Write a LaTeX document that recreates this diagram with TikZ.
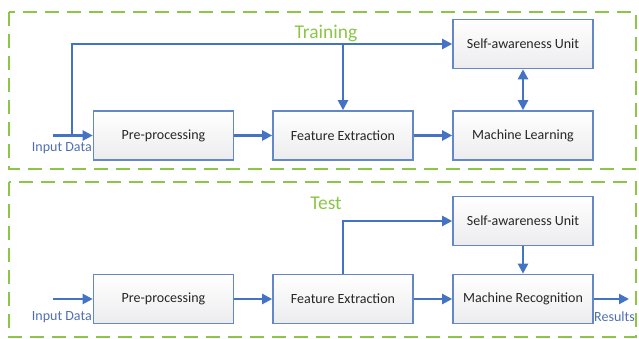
\documentclass[tikz,border=0pt]{standalone}
\usepackage{fontspec}
\setmainfont{Carlito}
\usetikzlibrary{arrows.meta,calc}
\definecolor{grn}{RGB}{140,198,70}
\definecolor{blu}{RGB}{68,114,196}
\definecolor{bord}{RGB}{100,135,200}
\definecolor{lbl}{RGB}{80,110,180}
\tikzset{
  blk/.style={draw=bord, line width=1.6pt, top color=white, bottom color=blue!6!gray!14, minimum width=140pt, minimum height=49pt, inner sep=0pt, font=\fontsize{14}{16}\selectfont, text=black!85},
  arr/.style={draw=blu, line width=2.2pt, -{Triangle[length=10pt,width=10pt]}},
  darr/.style={draw=blu, line width=2.2pt, {Triangle[length=10pt,width=10pt]}-{Triangle[length=10pt,width=10pt]}},
  frame/.style={draw=grn, line width=2pt, dash pattern=on 14pt off 8pt},
  ttl/.style={text=grn, font=\fontsize{19.5}{22}\selectfont, inner sep=0pt},
  io/.style={text=lbl, font=\fontsize{14}{16}\selectfont, inner sep=0pt}
}
\begin{document}
\begin{tikzpicture}[x=1pt,y=-1pt]
\useasboundingbox (0,0) rectangle (639,339);
% frames
\draw[frame] (9,12) rectangle (636,169);
\draw[frame] (9,182) rectangle (636,337);
\node[ttl] (t1) at (326,33) {Training};
\node[ttl] (t2) at (326,203) {Test};
% top row
\node[blk] (pre1) at (163.5,135.5) {Pre-processing};
\node[blk] (fe1) at (343,135.5) {Feature Extraction};
\node[blk] (ml1) at (523,135.5) {Machine Learning};
\node[blk] (sau1) at (523,44) {Self-awareness Unit};
\coordinate (in1) at (53,135.5);
\coordinate (br1) at (72,135.5);
\coordinate (j1) at (fe1.north |- sau1.west);
\draw[arr] (in1) -- (pre1.west);
\draw[arr] (br1) |- (sau1.west);
\draw[arr] (j1) -- (fe1.north);
\draw[arr] (pre1.east) -- (fe1.west);
\draw[arr] (fe1.east) -- (ml1.west);
\draw[darr] (sau1.south) -- (ml1.north);
\node[io, anchor=east] (id1) at (92,148) {Input Data};
% bottom row
\node[blk] (pre2) at (163.5,299) {Pre-processing};
\node[blk] (fe2) at (343,299) {Feature Extraction};
\node[blk] (mr2) at (523,299) {Machine Recognition};
\node[blk] (sau2) at (523,221) {Self-awareness Unit};
\coordinate (in2) at (53,299);
\coordinate (out2) at (629,299);
\draw[arr] (in2) -- (pre2.west);
\draw[arr] (pre2.east) -- (fe2.west);
\draw[arr] (fe2.east) -- (mr2.west);
\draw[arr] (fe2.north) |- (sau2.west);
\draw[arr] (sau2.south) -- (mr2.north);
\draw[arr] (mr2.east) -- (out2);
\node[io, anchor=east] (id2) at (92,317) {Input Data};
\node[io, anchor=west] (res) at (594,317) {Results};
\end{tikzpicture}
\end{document}
